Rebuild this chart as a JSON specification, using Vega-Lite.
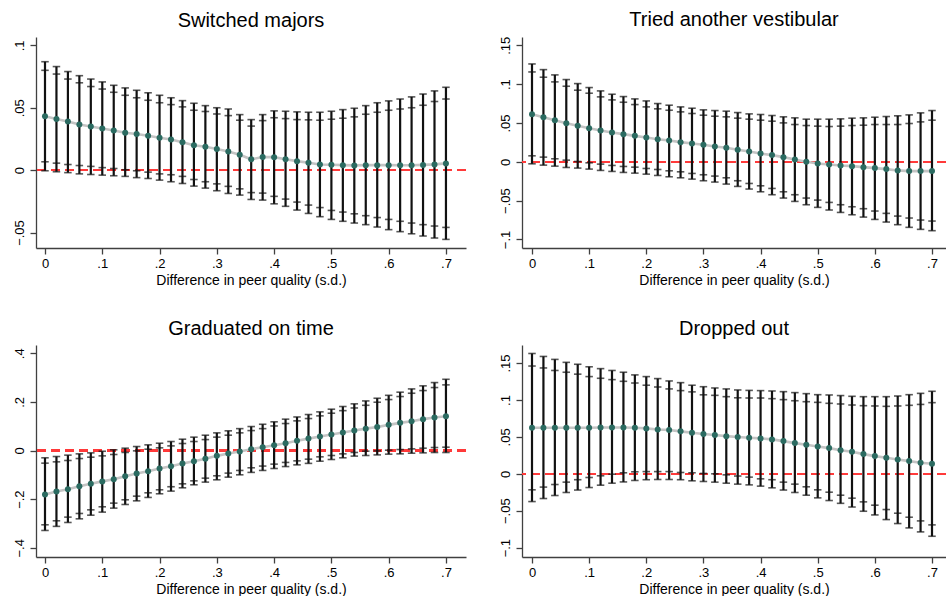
{
"$schema":"https://vega.github.io/schema/vega-lite/v6.json",
"padding":{"left":12,"top":10,"right":0,"bottom":0},
"background":"white",
"config":{"view":{"stroke":null},"font":"Liberation Sans",
"axis":{"grid":false,"domainColor":"#404040","tickColor":"#404040","domainWidth":1.3,"tickWidth":1.3,"tickSize":6,"labelColor":"#000","labelFontSize":13,"labelFont":"Liberation Sans","titleFont":"Liberation Sans","titleFontSize":14,"titleFontWeight":"normal","titleColor":"#000","labelOverlap":false,"labelFlush":false},
"axisY":{"labelAngle":-90,"labelAlign":"center","labelBaseline":"bottom","labelPadding":4},
"axisX":{"labelPadding":3,"titlePadding":3},
"title":{"fontSize":20,"fontWeight":"normal","font":"Liberation Sans","color":"#000","offset":6,"anchor":"middle"}},
"datasets":{
"p1":[
{"x":0,"est":0.0432,"lo95":-0.0005,"lo90":0.0067,"hi90":0.080,"hi95":0.0869},
{"x":0.02,"est":0.041,"lo95":-0.0013,"lo90":0.0056,"hi90":0.077,"hi95":0.083},
{"x":0.04,"est":0.039,"lo95":-0.002,"lo90":0.0045,"hi90":0.073,"hi95":0.079},
{"x":0.06,"est":0.0365,"lo95":-0.003,"lo90":0.0037,"hi90":0.070,"hi95":0.0757},
{"x":0.08,"est":0.035,"lo95":-0.0035,"lo90":0.003,"hi90":0.067,"hi95":0.073},
{"x":0.10,"est":0.0333,"lo95":-0.004,"lo90":0.002,"hi90":0.065,"hi95":0.0707},
{"x":0.12,"est":0.0317,"lo95":-0.0045,"lo90":0.0013,"hi90":0.0624,"hi95":0.068},
{"x":0.14,"est":0.030,"lo95":-0.005,"lo90":0.0003,"hi90":0.060,"hi95":0.0659},
{"x":0.16,"est":0.029,"lo95":-0.006,"lo90":-0.0005,"hi90":0.058,"hi95":0.064},
{"x":0.18,"est":0.0275,"lo95":-0.0067,"lo90":-0.0016,"hi90":0.056,"hi95":0.062},
{"x":0.20,"est":0.026,"lo95":-0.008,"lo90":-0.003,"hi90":0.054,"hi95":0.060},
{"x":0.22,"est":0.0245,"lo95":-0.0093,"lo90":-0.0037,"hi90":0.0525,"hi95":0.058},
{"x":0.24,"est":0.0224,"lo95":-0.0107,"lo90":-0.005,"hi90":0.0507,"hi95":0.0557},
{"x":0.26,"est":0.020,"lo95":-0.0128,"lo90":-0.0075,"hi90":0.048,"hi95":0.0536},
{"x":0.28,"est":0.0187,"lo95":-0.0144,"lo90":-0.0093,"hi90":0.047,"hi95":0.0517},
{"x":0.30,"est":0.017,"lo95":-0.0165,"lo90":-0.011,"hi90":0.045,"hi95":0.050},
{"x":0.32,"est":0.015,"lo95":-0.0187,"lo90":-0.013,"hi90":0.0437,"hi95":0.049},
{"x":0.34,"est":0.0123,"lo95":-0.020,"lo90":-0.015,"hi90":0.040,"hi95":0.0445},
{"x":0.36,"est":0.0087,"lo95":-0.0235,"lo90":-0.018,"hi90":0.0353,"hi95":0.0405},
{"x":0.38,"est":0.0105,"lo95":-0.024,"lo90":-0.0184,"hi90":0.0397,"hi95":0.0445},
{"x":0.40,"est":0.0104,"lo95":-0.027,"lo90":-0.021,"hi90":0.042,"hi95":0.0475},
{"x":0.42,"est":0.0088,"lo95":-0.029,"lo90":-0.0232,"hi90":0.0413,"hi95":0.0472},
{"x":0.44,"est":0.0072,"lo95":-0.032,"lo90":-0.0256,"hi90":0.0405,"hi95":0.0467},
{"x":0.46,"est":0.0059,"lo95":-0.0347,"lo90":-0.028,"hi90":0.0403,"hi95":0.0464},
{"x":0.48,"est":0.0045,"lo95":-0.0373,"lo90":-0.030,"hi90":0.040,"hi95":0.0464},
{"x":0.50,"est":0.0043,"lo95":-0.0395,"lo90":-0.0323,"hi90":0.0408,"hi95":0.0472},
{"x":0.52,"est":0.004,"lo95":-0.041,"lo90":-0.0336,"hi90":0.0416,"hi95":0.0485},
{"x":0.54,"est":0.0038,"lo95":-0.0424,"lo90":-0.035,"hi90":0.0427,"hi95":0.0496},
{"x":0.56,"est":0.004,"lo95":-0.0437,"lo90":-0.0365,"hi90":0.0448,"hi95":0.0517},
{"x":0.58,"est":0.004,"lo95":-0.0456,"lo90":-0.038,"hi90":0.0464,"hi95":0.054},
{"x":0.60,"est":0.004,"lo95":-0.0477,"lo90":-0.0395,"hi90":0.048,"hi95":0.0555},
{"x":0.62,"est":0.0039,"lo95":-0.0493,"lo90":-0.041,"hi90":0.049,"hi95":0.057},
{"x":0.64,"est":0.0039,"lo95":-0.051,"lo90":-0.0424,"hi90":0.050,"hi95":0.0587},
{"x":0.66,"est":0.0042,"lo95":-0.0528,"lo90":-0.0437,"hi90":0.052,"hi95":0.061},
{"x":0.68,"est":0.0046,"lo95":-0.0544,"lo90":-0.0448,"hi90":0.055,"hi95":0.0635},
{"x":0.70,"est":0.0054,"lo95":-0.0555,"lo90":-0.0459,"hi90":0.057,"hi95":0.0664}],
"p2":[
{"x":0,"est":0.0613,"lo95":-0.0026,"lo90":0.0077,"hi90":0.1157,"hi95":0.126},
{"x":0.02,"est":0.0574,"lo95":-0.0043,"lo90":0.006,"hi90":0.1089,"hi95":0.1187},
{"x":0.04,"est":0.0536,"lo95":-0.0056,"lo90":0.0039,"hi90":0.1029,"hi95":0.1119},
{"x":0.06,"est":0.0497,"lo95":-0.0073,"lo90":0.0021,"hi90":0.0973,"hi95":0.1059},
{"x":0.08,"est":0.0463,"lo95":-0.0081,"lo90":0.0004,"hi90":0.0922,"hi95":0.1007},
{"x":0.10,"est":0.0433,"lo95":-0.0094,"lo90":-0.0013,"hi90":0.0883,"hi95":0.0956},
{"x":0.12,"est":0.0403,"lo95":-0.0111,"lo90":-0.003,"hi90":0.0836,"hi95":0.0913},
{"x":0.14,"est":0.0377,"lo95":-0.0124,"lo90":-0.0047,"hi90":0.0797,"hi95":0.087},
{"x":0.16,"est":0.0356,"lo95":-0.0137,"lo90":-0.006,"hi90":0.0767,"hi95":0.084},
{"x":0.18,"est":0.0334,"lo95":-0.0146,"lo90":-0.0069,"hi90":0.0737,"hi95":0.081},
{"x":0.20,"est":0.0313,"lo95":-0.0159,"lo90":-0.0086,"hi90":0.0707,"hi95":0.0784},
{"x":0.22,"est":0.0291,"lo95":-0.0176,"lo90":-0.0099,"hi90":0.0682,"hi95":0.075},
{"x":0.24,"est":0.0274,"lo95":-0.0193,"lo90":-0.0116,"hi90":0.0664,"hi95":0.0729},
{"x":0.26,"est":0.0253,"lo95":-0.0206,"lo90":-0.0129,"hi90":0.0643,"hi95":0.0707},
{"x":0.28,"est":0.0236,"lo95":-0.0223,"lo90":-0.015,"hi90":0.0622,"hi95":0.069},
{"x":0.30,"est":0.0219,"lo95":-0.0244,"lo90":-0.0167,"hi90":0.060,"hi95":0.0669},
{"x":0.32,"est":0.0197,"lo95":-0.0261,"lo90":-0.0184,"hi90":0.0587,"hi95":0.066},
{"x":0.34,"est":0.018,"lo95":-0.0287,"lo90":-0.0206,"hi90":0.0579,"hi95":0.0652},
{"x":0.36,"est":0.0154,"lo95":-0.0317,"lo90":-0.0244,"hi90":0.0562,"hi95":0.0634},
{"x":0.38,"est":0.0133,"lo95":-0.0351,"lo90":-0.0279,"hi90":0.0549,"hi95":0.0617},
{"x":0.40,"est":0.0107,"lo95":-0.0386,"lo90":-0.0309,"hi90":0.0536,"hi95":0.0609},
{"x":0.42,"est":0.0086,"lo95":-0.0424,"lo90":-0.0343,"hi90":0.0523,"hi95":0.0596},
{"x":0.44,"est":0.006,"lo95":-0.0467,"lo90":-0.0386,"hi90":0.0501,"hi95":0.0579},
{"x":0.46,"est":0.003,"lo95":-0.051,"lo90":-0.0424,"hi90":0.048,"hi95":0.0566},
{"x":0.48,"est":0.0,"lo95":-0.0553,"lo90":-0.0467,"hi90":0.0467,"hi95":0.0549},
{"x":0.50,"est":-0.0021,"lo95":-0.0587,"lo90":-0.0493,"hi90":0.0459,"hi95":0.0549},
{"x":0.52,"est":-0.0034,"lo95":-0.0621,"lo90":-0.0523,"hi90":0.0454,"hi95":0.0549},
{"x":0.54,"est":-0.0047,"lo95":-0.0652,"lo90":-0.0553,"hi90":0.0459,"hi95":0.0553},
{"x":0.56,"est":-0.0056,"lo95":-0.0682,"lo90":-0.0579,"hi90":0.0467,"hi95":0.0562},
{"x":0.58,"est":-0.0069,"lo95":-0.0712,"lo90":-0.0604,"hi90":0.0471,"hi95":0.0566},
{"x":0.60,"est":-0.0081,"lo95":-0.0742,"lo90":-0.0634,"hi90":0.048,"hi95":0.0574},
{"x":0.62,"est":-0.0094,"lo95":-0.0776,"lo90":-0.0664,"hi90":0.048,"hi95":0.0583},
{"x":0.64,"est":-0.0111,"lo95":-0.081,"lo90":-0.0699,"hi90":0.048,"hi95":0.0592},
{"x":0.66,"est":-0.012,"lo95":-0.0844,"lo90":-0.0724,"hi90":0.0493,"hi95":0.0604},
{"x":0.68,"est":-0.012,"lo95":-0.087,"lo90":-0.075,"hi90":0.0514,"hi95":0.063},
{"x":0.70,"est":-0.012,"lo95":-0.0887,"lo90":-0.0763,"hi90":0.0536,"hi95":0.066}],
"p3":[
{"x":0,"est":-0.1808,"lo95":-0.3288,"lo90":-0.3055,"hi90":-0.052,"hi95":-0.030},
{"x":0.02,"est":-0.1685,"lo95":-0.312,"lo90":-0.289,"hi90":-0.0466,"hi95":-0.0247},
{"x":0.04,"est":-0.159,"lo95":-0.296,"lo90":-0.274,"hi90":-0.041,"hi95":-0.019},
{"x":0.06,"est":-0.1466,"lo95":-0.281,"lo90":-0.259,"hi90":-0.033,"hi95":-0.0137},
{"x":0.08,"est":-0.137,"lo95":-0.266,"lo90":-0.244,"hi90":-0.0274,"hi95":-0.0096},
{"x":0.10,"est":-0.127,"lo95":-0.2534,"lo90":-0.2315,"hi90":-0.022,"hi95":-0.003},
{"x":0.12,"est":-0.118,"lo95":-0.237,"lo90":-0.2164,"hi90":-0.0164,"hi95":0.003},
{"x":0.14,"est":-0.1055,"lo95":-0.222,"lo90":-0.2027,"hi90":-0.008,"hi95":0.0096},
{"x":0.16,"est":-0.0945,"lo95":-0.207,"lo90":-0.1877,"hi90":-0.0014,"hi95":0.0164},
{"x":0.18,"est":-0.085,"lo95":-0.193,"lo90":-0.174,"hi90":0.0055,"hi95":0.0233},
{"x":0.20,"est":-0.074,"lo95":-0.178,"lo90":-0.1616,"hi90":0.011,"hi95":0.030},
{"x":0.22,"est":-0.0644,"lo95":-0.167,"lo90":-0.149,"hi90":0.019,"hi95":0.037},
{"x":0.24,"est":-0.0534,"lo95":-0.1534,"lo90":-0.137,"hi90":0.0288,"hi95":0.0466},
{"x":0.26,"est":-0.0438,"lo95":-0.141,"lo90":-0.1247,"hi90":0.037,"hi95":0.055},
{"x":0.28,"est":-0.034,"lo95":-0.130,"lo90":-0.1137,"hi90":0.045,"hi95":0.063},
{"x":0.30,"est":-0.022,"lo95":-0.1205,"lo90":-0.104,"hi90":0.055,"hi95":0.0726},
{"x":0.32,"est":-0.0123,"lo95":-0.1096,"lo90":-0.093,"hi90":0.063,"hi95":0.081},
{"x":0.34,"est":-0.004,"lo95":-0.100,"lo90":-0.082,"hi90":0.0726,"hi95":0.090},
{"x":0.36,"est":0.0055,"lo95":-0.090,"lo90":-0.071,"hi90":0.082,"hi95":0.0986},
{"x":0.38,"est":0.0137,"lo95":-0.082,"lo90":-0.064,"hi90":0.090,"hi95":0.108},
{"x":0.40,"est":0.022,"lo95":-0.074,"lo90":-0.056,"hi90":0.101,"hi95":0.118},
{"x":0.42,"est":0.030,"lo95":-0.066,"lo90":-0.049,"hi90":0.111,"hi95":0.129},
{"x":0.44,"est":0.040,"lo95":-0.059,"lo90":-0.0425,"hi90":0.122,"hi95":0.138},
{"x":0.46,"est":0.049,"lo95":-0.053,"lo90":-0.0356,"hi90":0.1315,"hi95":0.148},
{"x":0.48,"est":0.0575,"lo95":-0.044,"lo90":-0.026,"hi90":0.1425,"hi95":0.159},
{"x":0.50,"est":0.0658,"lo95":-0.037,"lo90":-0.0205,"hi90":0.1534,"hi95":0.170},
{"x":0.52,"est":0.074,"lo95":-0.030,"lo90":-0.0137,"hi90":0.164,"hi95":0.181},
{"x":0.54,"est":0.082,"lo95":-0.023,"lo90":-0.008,"hi90":0.175,"hi95":0.192},
{"x":0.56,"est":0.090,"lo95":-0.0205,"lo90":-0.0027,"hi90":0.186,"hi95":0.204},
{"x":0.58,"est":0.097,"lo95":-0.018,"lo90":-0.0014,"hi90":0.1986,"hi95":0.215},
{"x":0.60,"est":0.1055,"lo95":-0.015,"lo90":0.0014,"hi90":0.2096,"hi95":0.227},
{"x":0.62,"est":0.1137,"lo95":-0.0137,"lo90":0.004,"hi90":0.222,"hi95":0.240},
{"x":0.64,"est":0.1205,"lo95":-0.011,"lo90":0.0068,"hi90":0.2356,"hi95":0.2534},
{"x":0.66,"est":0.129,"lo95":-0.0096,"lo90":0.0096,"hi90":0.2466,"hi95":0.266},
{"x":0.68,"est":0.1356,"lo95":-0.0082,"lo90":0.0123,"hi90":0.259,"hi95":0.2795},
{"x":0.70,"est":0.141,"lo95":-0.0082,"lo90":0.0137,"hi90":0.270,"hi95":0.293}],
"p4":[
{"x":0,"est":0.0624,"lo95":-0.0376,"lo90":-0.0217,"hi90":0.146,"hi95":0.163},
{"x":0.02,"est":0.0624,"lo95":-0.0335,"lo90":-0.018,"hi90":0.1434,"hi95":0.159},
{"x":0.04,"est":0.0624,"lo95":-0.0294,"lo90":-0.0145,"hi90":0.140,"hi95":0.155},
{"x":0.06,"est":0.0624,"lo95":-0.0253,"lo90":-0.0113,"hi90":0.1376,"hi95":0.151},
{"x":0.08,"est":0.0624,"lo95":-0.022,"lo90":-0.008,"hi90":0.135,"hi95":0.1484},
{"x":0.10,"est":0.0624,"lo95":-0.0186,"lo90":-0.005,"hi90":0.1317,"hi95":0.145},
{"x":0.12,"est":0.0628,"lo95":-0.0154,"lo90":-0.0027,"hi90":0.1294,"hi95":0.1425},
{"x":0.14,"est":0.0628,"lo95":-0.0127,"lo90":-0.0005,"hi90":0.1276,"hi95":0.140},
{"x":0.16,"est":0.0628,"lo95":-0.011,"lo90":0.0014,"hi90":0.1253,"hi95":0.1376},
{"x":0.18,"est":0.0624,"lo95":-0.009,"lo90":0.0027,"hi90":0.123,"hi95":0.134},
{"x":0.20,"est":0.0615,"lo95":-0.008,"lo90":0.003,"hi90":0.120,"hi95":0.1317},
{"x":0.22,"est":0.060,"lo95":-0.0077,"lo90":0.003,"hi90":0.1176,"hi95":0.129},
{"x":0.24,"est":0.0593,"lo95":-0.0077,"lo90":0.003,"hi90":0.115,"hi95":0.1258},
{"x":0.26,"est":0.0575,"lo95":-0.008,"lo90":0.0018,"hi90":0.1127,"hi95":0.1235},
{"x":0.28,"est":0.0557,"lo95":-0.0095,"lo90":0.0014,"hi90":0.111,"hi95":0.120},
{"x":0.30,"est":0.054,"lo95":-0.0104,"lo90":0.0005,"hi90":0.107,"hi95":0.118},
{"x":0.32,"est":0.0525,"lo95":-0.0113,"lo90":0.0,"hi90":0.1063,"hi95":0.1163},
{"x":0.34,"est":0.051,"lo95":-0.0127,"lo90":-0.0014,"hi90":0.1045,"hi95":0.115},
{"x":0.36,"est":0.0498,"lo95":-0.014,"lo90":-0.003,"hi90":0.103,"hi95":0.1136},
{"x":0.38,"est":0.0489,"lo95":-0.015,"lo90":-0.0045,"hi90":0.1027,"hi95":0.113},
{"x":0.40,"est":0.048,"lo95":-0.0167,"lo90":-0.0068,"hi90":0.1027,"hi95":0.1127},
{"x":0.42,"est":0.0466,"lo95":-0.019,"lo90":-0.008,"hi90":0.1018,"hi95":0.1122},
{"x":0.44,"est":0.0443,"lo95":-0.022,"lo90":-0.0113,"hi90":0.1005,"hi95":0.1113},
{"x":0.46,"est":0.0416,"lo95":-0.0253,"lo90":-0.014,"hi90":0.099,"hi95":0.110},
{"x":0.48,"est":0.0394,"lo95":-0.029,"lo90":-0.0176,"hi90":0.0977,"hi95":0.1086},
{"x":0.50,"est":0.037,"lo95":-0.0326,"lo90":-0.0217,"hi90":0.0968,"hi95":0.1072},
{"x":0.52,"est":0.0348,"lo95":-0.0362,"lo90":-0.0249,"hi90":0.0955,"hi95":0.1068},
{"x":0.54,"est":0.032,"lo95":-0.040,"lo90":-0.029,"hi90":0.0946,"hi95":0.106},
{"x":0.56,"est":0.030,"lo95":-0.045,"lo90":-0.033,"hi90":0.0932,"hi95":0.105},
{"x":0.58,"est":0.0267,"lo95":-0.0507,"lo90":-0.038,"hi90":0.0923,"hi95":0.1045},
{"x":0.60,"est":0.024,"lo95":-0.0557,"lo90":-0.0425,"hi90":0.0919,"hi95":0.1045},
{"x":0.62,"est":0.0217,"lo95":-0.062,"lo90":-0.0484,"hi90":0.0914,"hi95":0.1045},
{"x":0.64,"est":0.0195,"lo95":-0.0674,"lo90":-0.0534,"hi90":0.0919,"hi95":0.1054},
{"x":0.66,"est":0.0172,"lo95":-0.0733,"lo90":-0.0588,"hi90":0.0928,"hi95":0.1072},
{"x":0.68,"est":0.015,"lo95":-0.0787,"lo90":-0.0638,"hi90":0.094,"hi95":0.109},
{"x":0.70,"est":0.0136,"lo95":-0.0846,"lo90":-0.0692,"hi90":0.0964,"hi95":0.1118}]
},
"columns":2,
"spacing":{"row":97,"column":56},
"bounds":"flush",
"concat":[
{"title":"Switched majors","width":430,"height":211,"data":{"name":"p1"},
"layer":[
{"mark":{"type":"rule","color":"#ff3b3b","strokeDash":[9,5],"strokeWidth":1.4},"encoding":{"y":{"datum":0,"type":"quantitative","axis":{"title":null}}}},
{"mark":{"type":"line","color":"#c4c4c4","strokeWidth":2.6},"encoding":{"x":{"field":"x","type":"quantitative","scale":{"domain":[-0.0157,0.735],"nice":false,"zero":false},"axis":{"values":[0,0.1,0.2,0.3,0.4,0.5,0.6,0.7],"title":"Difference in peer quality (s.d.)","labelExpr":"replace(format(datum.value,'~g'),'0.','.')"}},"y":{"field":"est","type":"quantitative","scale":{"domain":[-0.0624,0.1067],"nice":false,"zero":false},"axis":{"values":[-0.05,0,0.05,0.1],"title":null,"labelExpr":"replace(format(datum.value,'~g'),'0.','.')"}}}},
{"mark":{"type":"rule","color":"#111","strokeWidth":2.2},"encoding":{"x":{"field":"x","type":"quantitative"},"y":{"field":"lo95","type":"quantitative","axis":{"title":null}},"y2":{"field":"hi95"}}},
{"transform":[{"fold":["lo95","lo90","hi90","hi95"],"as":["k","v"]}],"mark":{"type":"tick","orient":"horizontal","size":7.5,"thickness":1.6,"color":"#111"},"encoding":{"x":{"field":"x","type":"quantitative"},"y":{"field":"v","type":"quantitative","axis":{"title":null}}}},
{"mark":{"type":"circle","size":36,"color":"#2b6b61","opacity":1},"encoding":{"x":{"field":"x","type":"quantitative"},"y":{"field":"est","type":"quantitative","axis":{"title":null}}}}
]},
{"title":"Tried another vestibular","width":424,"height":211,"data":{"name":"p2"},
"layer":[
{"mark":{"type":"rule","color":"#ff3b3b","strokeDash":[9,5],"strokeWidth":1.4},"encoding":{"y":{"datum":0,"type":"quantitative","axis":{"title":null}}}},
{"mark":{"type":"line","color":"#c4c4c4","strokeWidth":2.6},"encoding":{"x":{"field":"x","type":"quantitative","scale":{"domain":[-0.0175,0.7245],"nice":false,"zero":false},"axis":{"values":[0,0.1,0.2,0.3,0.4,0.5,0.6,0.7],"title":"Difference in peer quality (s.d.)","labelExpr":"replace(format(datum.value,'~g'),'0.','.')"}},"y":{"field":"est","type":"quantitative","scale":{"domain":[-0.111,0.1607],"nice":false,"zero":false},"axis":{"values":[-0.1,-0.05,0,0.05,0.1,0.15],"title":null,"labelExpr":"replace(format(datum.value,'~g'),'0.','.')"}}}},
{"mark":{"type":"rule","color":"#111","strokeWidth":2.2},"encoding":{"x":{"field":"x","type":"quantitative"},"y":{"field":"lo95","type":"quantitative","axis":{"title":null}},"y2":{"field":"hi95"}}},
{"transform":[{"fold":["lo95","lo90","hi90","hi95"],"as":["k","v"]}],"mark":{"type":"tick","orient":"horizontal","size":7.5,"thickness":1.6,"color":"#111"},"encoding":{"x":{"field":"x","type":"quantitative"},"y":{"field":"v","type":"quantitative","axis":{"title":null}}}},
{"mark":{"type":"circle","size":36,"color":"#2b6b61","opacity":1},"encoding":{"x":{"field":"x","type":"quantitative"},"y":{"field":"est","type":"quantitative","axis":{"title":null}}}}
]},
{"title":"Graduated on time","width":430,"height":212,"data":{"name":"p3"},
"layer":[
{"mark":{"type":"rule","color":"#ff3b3b","strokeDash":[9,5],"strokeWidth":1.4},"encoding":{"y":{"datum":0,"type":"quantitative","axis":{"title":null}}}},
{"mark":{"type":"line","color":"#c4c4c4","strokeWidth":2.6},"encoding":{"x":{"field":"x","type":"quantitative","scale":{"domain":[-0.0157,0.735],"nice":false,"zero":false},"axis":{"values":[0,0.1,0.2,0.3,0.4,0.5,0.6,0.7],"title":"Difference in peer quality (s.d.)","labelExpr":"replace(format(datum.value,'~g'),'0.','.')"}},"y":{"field":"est","type":"quantitative","scale":{"domain":[-0.438,0.434],"nice":false,"zero":false},"axis":{"values":[-0.4,-0.2,0,0.2,0.4],"title":null,"labelExpr":"replace(format(datum.value,'~g'),'0.','.')"}}}},
{"mark":{"type":"rule","color":"#111","strokeWidth":2.2},"encoding":{"x":{"field":"x","type":"quantitative"},"y":{"field":"lo95","type":"quantitative","axis":{"title":null}},"y2":{"field":"hi95"}}},
{"transform":[{"fold":["lo95","lo90","hi90","hi95"],"as":["k","v"]}],"mark":{"type":"tick","orient":"horizontal","size":7.5,"thickness":1.6,"color":"#111"},"encoding":{"x":{"field":"x","type":"quantitative"},"y":{"field":"v","type":"quantitative","axis":{"title":null}}}},
{"mark":{"type":"circle","size":36,"color":"#2b6b61","opacity":1},"encoding":{"x":{"field":"x","type":"quantitative"},"y":{"field":"est","type":"quantitative","axis":{"title":null}}}}
]},
{"title":"Dropped out","width":424,"height":212,"data":{"name":"p4"},
"layer":[
{"mark":{"type":"rule","color":"#ff3b3b","strokeDash":[9,5],"strokeWidth":1.4},"encoding":{"y":{"datum":0,"type":"quantitative","axis":{"title":null}}}},
{"mark":{"type":"line","color":"#c4c4c4","strokeWidth":2.6},"encoding":{"x":{"field":"x","type":"quantitative","scale":{"domain":[-0.0175,0.7245],"nice":false,"zero":false},"axis":{"values":[0,0.1,0.2,0.3,0.4,0.5,0.6,0.7],"title":"Difference in peer quality (s.d.)","labelExpr":"replace(format(datum.value,'~g'),'0.','.')"}},"y":{"field":"est","type":"quantitative","scale":{"domain":[-0.1127,0.1745],"nice":false,"zero":false},"axis":{"values":[-0.1,-0.05,0,0.05,0.1,0.15],"title":null,"labelExpr":"replace(format(datum.value,'~g'),'0.','.')"}}}},
{"mark":{"type":"rule","color":"#111","strokeWidth":2.2},"encoding":{"x":{"field":"x","type":"quantitative"},"y":{"field":"lo95","type":"quantitative","axis":{"title":null}},"y2":{"field":"hi95"}}},
{"transform":[{"fold":["lo95","lo90","hi90","hi95"],"as":["k","v"]}],"mark":{"type":"tick","orient":"horizontal","size":7.5,"thickness":1.6,"color":"#111"},"encoding":{"x":{"field":"x","type":"quantitative"},"y":{"field":"v","type":"quantitative","axis":{"title":null}}}},
{"mark":{"type":"circle","size":36,"color":"#2b6b61","opacity":1},"encoding":{"x":{"field":"x","type":"quantitative"},"y":{"field":"est","type":"quantitative","axis":{"title":null}}}}
]}
]
}
